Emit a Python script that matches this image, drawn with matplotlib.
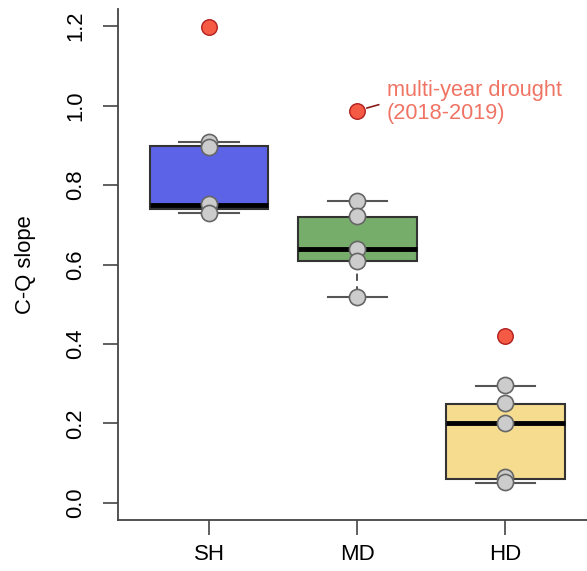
import matplotlib
matplotlib.use("Agg")
import matplotlib.pyplot as plt

plt.rcParams['font.family'] = ['Liberation Sans', 'DejaVu Sans']

# ---- data ----
categories = ["SH", "MD", "HD"]
box_q1 = [0.740, 0.608, 0.060]
box_med = [0.750, 0.640, 0.200]
box_q3 = [0.898, 0.720, 0.250]
whisk_lo = [0.730, 0.519, 0.051]
whisk_hi = [0.908, 0.759, 0.295]
points_SH = [0.909, 0.896, 0.752, 0.730]
points_MD = [0.759, 0.722, 0.640, 0.610, 0.519]
points_HD = [0.296, 0.252, 0.202, 0.066, 0.053]
drought_vals = [1.198, 0.987, 0.420]
box_colors = ["#5c63e6", "#76ad6b", "#f5dc8f"]
y_ticks = [0.0, 0.2, 0.4, 0.6, 0.8, 1.0, 1.2]

fig = plt.figure(figsize=(5.87, 5.71), dpi=100)
ax = fig.add_axes([118/587, 51/571, 1 - 118/587, (520 - 9)/571])

positions = list(range(1, len(categories) + 1))
stats = []
for i, c in enumerate(categories):
    stats.append(dict(label=c, q1=box_q1[i], med=box_med[i], q3=box_q3[i],
                      whislo=whisk_lo[i], whishi=whisk_hi[i], fliers=[]))

bp = ax.bxp(stats, positions=positions, widths=0.8, capwidths=0.4,
            patch_artist=True, showfliers=False,
            boxprops=dict(edgecolor="#333333", linewidth=1.5),
            medianprops=dict(color="black", linewidth=3.5, solid_capstyle="butt"),
            whiskerprops=dict(color="#444444", linewidth=1.3, linestyle=(0, (4, 3))),
            capprops=dict(color="#555555", linewidth=1.5))
for patch, col in zip(bp["boxes"], box_colors):
    patch.set_facecolor(col)

for pos, pts in zip(positions, [points_SH, points_MD, points_HD]):
    ax.scatter([pos] * len(pts), pts, s=135, facecolor="#cccccc",
               edgecolor="#666666", linewidth=1.2, zorder=5)

ax.scatter(positions, drought_vals, s=125, facecolor="#f55a44",
           edgecolor="#b02020", linewidth=1.0, zorder=6)

ax.annotate("multi-year drought\n(2018-2019)", xy=(positions[1], drought_vals[1]),
            xytext=(2.2, 1.008), textcoords="data", ha="left", va="center",
            color="#f07464", fontsize=15.7, linespacing=1.12,
            arrowprops=dict(arrowstyle="-", color="#8b1a1a", lw=1.2,
                            shrinkA=4, shrinkB=7, relpos=(0, 0.5)))

ax.set_xlim(0.385, 3.55)
ax.set_ylim(-0.043, 1.243)
ax.set_yticks(y_ticks)
ax.set_yticklabels([f"{v:.1f}" for v in y_ticks], rotation=90, va="center")
ax.set_xticks(positions)
ax.set_xticklabels(categories)
ax.tick_params(axis="y", length=11, width=1.2, color="#444444", labelsize=15.8, pad=12)
ax.tick_params(axis="x", length=11, width=1.2, color="#444444", labelsize=16, pad=6)
ax.set_ylabel("C-Q slope", fontsize=15.8, labelpad=21)

for s in ["top", "right"]:
    ax.spines[s].set_visible(False)
for s in ["left", "bottom"]:
    ax.spines[s].set_color("#444444")
    ax.spines[s].set_linewidth(1.3)

fig.savefig("out.png", dpi=100)
